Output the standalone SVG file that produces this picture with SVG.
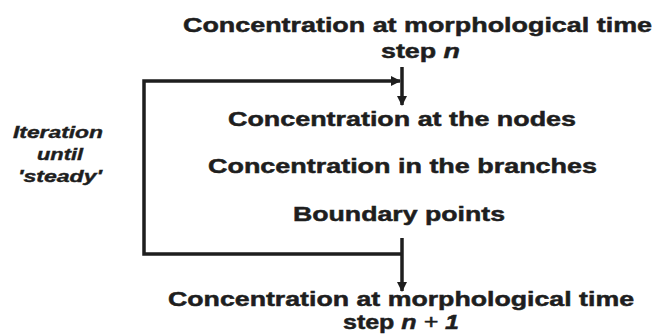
<svg xmlns="http://www.w3.org/2000/svg" width="656" height="335" viewBox="0 0 656 335">
<style>
.t{font-family:"Liberation Sans",Arial,sans-serif;font-weight:bold;font-size:21px;fill:#1e1e1e;stroke:#1e1e1e;stroke-width:0.5}
.i{font-family:"Liberation Sans",Arial,sans-serif;font-weight:bold;font-style:italic;font-size:16px;fill:#1e1e1e;stroke:#1e1e1e;stroke-width:0.4}
.c{stroke:#1e1e1e;stroke-width:3.5;fill:none}
</style>
<defs>
<marker id="ah" markerWidth="10" markerHeight="10" refX="9" refY="5" orient="auto" markerUnits="userSpaceOnUse">
<path d="M0,0 L10,5 L0,10 z" fill="#1e1e1e"/>
</marker>
</defs>
<rect width="656" height="335" fill="#fff"/>
<g id="top">
<text class="t" x="183" y="32" textLength="469" lengthAdjust="spacingAndGlyphs">Concentration at morphological time</text>
<text class="t" x="381" y="58" textLength="79" lengthAdjust="spacingAndGlyphs">step <tspan font-style="italic">n</tspan></text>
</g>
<g id="nodes">
<text class="t" x="228" y="126" textLength="348" lengthAdjust="spacingAndGlyphs">Concentration at the nodes</text>
</g>
<g id="branches">
<text class="t" x="208" y="173" textLength="389" lengthAdjust="spacingAndGlyphs">Concentration in the branches</text>
</g>
<g id="boundary">
<text class="t" x="293" y="221" textLength="212" lengthAdjust="spacingAndGlyphs">Boundary points</text>
</g>
<g id="bottom">
<text class="t" x="168" y="306" textLength="466" lengthAdjust="spacingAndGlyphs">Concentration at morphological time</text>
<text class="t" x="343" y="329" textLength="116" lengthAdjust="spacingAndGlyphs">step <tspan font-style="italic">n</tspan><tspan font-style="italic" font-weight="normal"> + </tspan><tspan font-style="italic">1</tspan></text>
</g>
<g id="iteration">
<text class="i" x="13" y="138" textLength="90" lengthAdjust="spacingAndGlyphs">Iteration</text>
<text class="i" x="37" y="160" textLength="46" lengthAdjust="spacingAndGlyphs">until</text>
<text class="i" x="18" y="182" textLength="84" lengthAdjust="spacingAndGlyphs">'steady'</text>
</g>
<g id="connectors">
<line class="c" x1="402" y1="67" x2="402" y2="105" marker-end="url(#ah)"/>
<polyline class="c" points="402,254 144,254 144,81 400,81" marker-end="url(#ah)"/>
<line class="c" x1="402" y1="238" x2="402" y2="291" marker-end="url(#ah)"/>
</g>
</svg>
